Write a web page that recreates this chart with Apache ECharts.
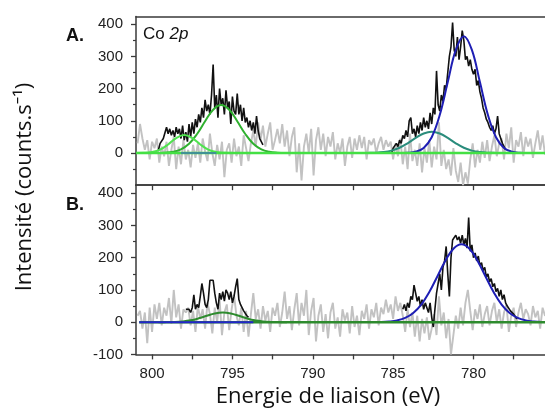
<!DOCTYPE html>
<html>
<head>
<meta charset="utf-8">
<script src="https://cdn.jsdelivr.net/npm/echarts@6/dist/echarts.min.js"></script>
<style>html,body{margin:0;padding:0;background:#fff;}#c{width:545px;height:411px;}</style>
</head>
<body>
<div id="c"></div>
<script>
// ---------- DATA ----------
// x axis (binding energy, eV)
const xMin = 775.55, xMax = 801;
const xMajorTicks = [800, 795, 790, 785, 780];
const xAllTicks = [800, 797.5, 795, 792.5, 790, 787.5, 785, 782.5, 780, 777.5];
const yLabelsA = [0, 100, 200, 300, 400];
const yLabelsB = [-100, 0, 100, 200, 300, 400];
const yMinor = [-50, 50, 150, 250, 350];

// gray traces: start energy 800.9, step 0.15 eV
const grayStart = 800.9, grayStep = 0.15;
const grayA = [30,90,45,10,40,-20,35,15,45,-30,
20,-10,35,-40,10,50,-50,20,-35,40,
-20,10,-45,25,-15,30,-30,45,5,-25,
60,0,-40,25,-20,35,-75,10,30,-30,
45,-10,20,-40,55,15,-25,30,70,20,
95,40,85,20,60,95,10,40,75,30,
90,20,70,-10,50,80,-60,30,-85,20,
60,0,75,-70,40,80,10,60,-10,50,
20,65,-20,30,0,45,-40,20,50,-15,
45,10,55,15,50,-20,40,25,45,0,
30,50,10,40,20,35,-20,30,-10,45,
-35,20,-50,60,-25,10,-40,30,-60,15,
-30,40,-45,20,-20,95,-40,10,-50,-20,
-70,15,-55,-90,-30,-100,-60,-95,-20,30,
-45,10,-30,35,-15,40,-25,20,55,-10,
30,45,-20,60,15,80,-30,40,20,65,
-10,50,20,45,-15,30,70,10,55,-5,40];
const grayB = [20,35,-20,30,-65,45,-30,55,10,60,
-10,45,20,75,-5,100,15,55,-20,40,
30,45,-10,35,-30,50,10,40,-20,60,
25,-35,45,0,70,-40,30,55,-25,40,
85,20,-10,45,-30,35,-45,25,90,10,
40,-20,50,5,35,-30,45,20,60,-15,
30,95,10,50,-25,40,90,-10,60,20,
100,-40,35,75,-60,20,55,-30,25,-50,
30,60,-20,15,-45,40,5,30,-35,50,
-15,20,-40,35,10,55,-20,40,15,60,
-10,45,25,70,30,55,10,80,35,60,
20,-30,40,-15,30,-45,20,-60,10,-35,
15,-55,-20,25,-40,80,-10,30,-50,10,
-100,-40,20,-20,45,-10,60,100,35,-25,
40,10,55,-15,25,50,-10,35,60,0,
40,-20,30,55,-30,20,45,-15,30,60,
10,40,25,-10,50,15,35,-20,45,20,30];

// black traces (fit regions), step 0.1 eV
const blackStep = 0.1;
const blackA1Start = 799.6;
const blackA1 = [10,30,25,45,40,80,60,75,55,70,
50,80,60,75,45,85,40,65,35,90,
50,95,60,105,80,120,95,140,110,165,
130,150,120,180,275,140,180,110,200,150,
170,120,195,140,160,90,175,130,120,185,
120,150,100,140,95,110,80,100,70,95,
60,115,70,45,50,25];
const blackA2Start = 785.1;
const blackA2 = [0,15,10,30,20,40,30,55,45,70,
50,100,110,60,75,50,85,60,95,70,
110,80,100,75,125,90,140,120,255,150,
130,180,160,210,200,250,300,330,405,320,
300,360,290,330,380,350,290,300,270,290,
260,245,260,210,225,190,170,140,125,105,
95,80,70,85,60,75,115,60,45,30,
20,10];
const blackB1Start = 797.9;
const blackB1 = [40,35,40,30,45,85,40,55,45,80,
120,90,55,45,70,130,125,130,90,60,
40,90,70,95,65,100,90,70,95,60,
80,110,135,70,55,50,35,30,20,15];
const blackB2Start = 784.4;
const blackB2 = [40,55,35,60,45,80,70,115,90,65,
80,50,70,40,60,45,30,60,15,-15,
40,90,120,150,100,170,190,235,150,80,
200,255,250,270,255,265,245,270,240,260,
230,325,220,240,200,215,190,205,175,185,
160,170,140,150,125,135,110,120,95,105,
80,100,70,85,60,50,45,35,40,25,
20,10];

// fitted components, step 0.5 eV
const fitStep = 0.5;
const fitASmallStart = 801.0;
const fitASmall = [0,0.5,2.9,10.5,26.6,46.5,56,46.5,26.6,10.5,2.9,0.5,0];
const fitABigStart = 799.7;
const fitABig = [0.2,0.9,3.6,11.3,28.5,58.9,98.6,134.4,149,134.4,98.6,58.9,28.5,11.3,3.6,0.9,0.2];
const fitATealStart = 787.1;
const fitATeal = [0,0.3,0.9,2.9,7.5,16.4,30.2,46.7,60.5,66,60.5,46.7,30.2,16.4,7.5,2.9,0.9,0.3,0];
const fitABlueStart = 784.6;
const fitABlue = [0.1,0.8,4.0,15.9,49.1,117.9,220.2,320.3,363,320.3,220.2,117.9,49.1,15.9,4.0,0.8,0.1];
const fitBGreenStart = 799.6;
const fitBGreen = [0,0.2,0.7,2.3,5.7,11.9,19.9,27.1,30,27.1,19.9,11.9,5.7,2.3,0.7,0.2,0];
const fitBBlueStart = 785.75;
const fitBBlue = [0.6,2.0,5.4,13.1,28.6,54.7,93.4,141.8,190.7,228,242,228,190.7,141.8,93.4,54.7,28.6,13.1,5.4,2.0,0.6];

// baselines (energy range, value 0)
const baseAx = [801, 775.5];
const baseBx = [800.8, 775.5];
const blueFlatAx = [798.2, 796.0];
const blueFlatBx = [800.8, 793.7];

// ---------- BUILD ----------
function seq(start, step, vals) {
  return vals.map((v, i) => [Math.round((start - i * step) * 1000) / 1000, v]);
}
function flat(xs) { return xs.map(x => [x, 0]); }

const axisCol = '#3a3a3a';
const labelFont = { fontFamily: 'Liberation Sans, Arial, sans-serif', fontSize: 15, color: '#222' };

function xAx(grid, pos, opts) {
  return Object.assign({
    type: 'value', gridIndex: grid, position: pos, min: xMin, max: xMax, inverse: true,
    axisLine: { show: true, onZero: false, lineStyle: { color: axisCol, width: 1.5 } },
    axisTick: { show: false }, axisLabel: { show: false }, splitLine: { show: false }
  }, opts);
}
function yAx(grid, min, max, opts) {
  return Object.assign({
    type: 'value', gridIndex: grid, position: 'left', min: min, max: max,
    axisLine: { show: true, onZero: false, lineStyle: { color: axisCol, width: 1.5 } },
    axisTick: { show: false }, axisLabel: { show: false }, splitLine: { show: false }
  }, opts);
}

function line(name, xi, yi, data, color, width, smooth, z) {
  return {
    name: name, type: 'line', xAxisIndex: xi, yAxisIndex: yi, data: data,
    showSymbol: false, symbol: 'none', smooth: smooth || false, clip: true, z: z || 2,
    lineStyle: { color: color, width: width }, emphasis: { disabled: true }, silent: true
  };
}

const option = {
  animation: false,
  backgroundColor: '#fff',
  grid: [
    { left: 136, right: 0, top: 16.5, height: 168.7, outerBoundsMode: 'none', containLabel: false },
    { left: 136, right: 0, top: 185.2, height: 169.2, outerBoundsMode: 'none', containLabel: false }
  ],
  xAxis: [
    xAx(0, 'bottom'),
    xAx(0, 'top'),
    xAx(1, 'bottom', {
      axisTick: { show: true, inside: false, length: 5, customValues: xAllTicks, lineStyle: { color: axisCol, width: 1.3 } },
      axisLabel: Object.assign({ show: true, margin: 12, customValues: xMajorTicks }, labelFont)
    }),
    xAx(1, 'top', {
      axisTick: { show: true, inside: true, length: 5, customValues: xAllTicks, lineStyle: { color: axisCol, width: 1.3 } }
    })
  ],
  yAxis: [
    yAx(0, -100, 424, {
      axisTick: { show: true, length: 5, customValues: yLabelsA, lineStyle: { color: axisCol, width: 1.3 } },
      axisLabel: Object.assign({ show: true, margin: 13, customValues: yLabelsA }, labelFont)
    }),
    yAx(0, -100, 424, {
      axisLine: { show: false },
      axisTick: { show: true, length: 3, customValues: yMinor, lineStyle: { color: axisCol, width: 1.2 } }
    }),
    yAx(1, -100, 425, {
      axisTick: { show: true, length: 5, customValues: yLabelsB, lineStyle: { color: axisCol, width: 1.3 } },
      axisLabel: Object.assign({ show: true, margin: 13, customValues: yLabelsB }, labelFont)
    }),
    yAx(1, -100, 425, {
      axisLine: { show: false },
      axisTick: { show: true, length: 3, customValues: yMinor, lineStyle: { color: axisCol, width: 1.2 } }
    })
  ],
  series: [
    // panel A
    line('grayA', 0, 0, seq(grayStart, grayStep, grayA), '#c2c2c2', 1.9, false, 1),
    line('blackA1', 0, 0, seq(blackA1Start, blackStep, blackA1), '#111', 1.6, false, 2),
    line('blackA2', 0, 0, seq(blackA2Start, blackStep, blackA2), '#111', 1.6, false, 2),
    line('fitABig', 0, 0, seq(fitABigStart, fitStep, fitABig), '#2fb02f', 2, 0.4, 3),
    line('fitASmall', 0, 0, seq(fitASmallStart, fitStep, fitASmall), '#4fe34f', 2, 0.4, 3),
    line('fitATeal', 0, 0, seq(fitATealStart, fitStep, fitATeal), '#2a8c7c', 2, 0.4, 3),
    line('fitABlue', 0, 0, seq(fitABlueStart, fitStep, fitABlue), '#1e1eb4', 2, 0.4, 3),
    line('baseA', 0, 0, flat(baseAx), '#44e044', 2.5, false, 4),
    line('blueFlatA', 0, 0, flat(blueFlatAx), '#3f78b0', 1.5, false, 5),
    // panel B
    line('grayB', 2, 2, seq(grayStart, grayStep, grayB), '#c2c2c2', 1.9, false, 1),
    line('blackB1', 2, 2, seq(blackB1Start, blackStep, blackB1), '#111', 1.6, false, 2),
    line('blackB2', 2, 2, seq(blackB2Start, blackStep, blackB2), '#111', 1.6, false, 2),
    line('fitBGreen', 2, 2, seq(fitBGreenStart, fitStep, fitBGreen), '#2e8b2e', 2, 0.4, 3),
    line('fitBBlue', 2, 2, seq(fitBBlueStart, fitStep, fitBBlue), '#1e1eb4', 2, 0.4, 3),
    line('baseB', 2, 2, flat(baseBx), '#2e8b2e', 2.5, false, 4),
    line('blueFlatB', 2, 2, flat(blueFlatBx), '#2424cc', 2, false, 5)
  ],
  graphic: [
    { type: 'text', x: 25, y: 187, rotation: Math.PI / 2, z: 10,
      style: { text: 'Intensité (counts.s⁻¹)', font: '22px "Open Sans", "Noto Sans", sans-serif', fill: '#111', textAlign: 'center', textVerticalAlign: 'middle' } },
    { type: 'text', x: 328, y: 397, z: 10,
      style: { text: 'Energie de liaison (eV)', font: '22px "Open Sans", "Noto Sans", sans-serif', fill: '#111', textAlign: 'center', textVerticalAlign: 'middle' } },
    { type: 'text', x: 66, y: 36, z: 10,
      style: { text: 'A.', font: 'bold 18px "Liberation Sans", Arial, sans-serif', fill: '#111', textAlign: 'left', textVerticalAlign: 'middle' } },
    { type: 'text', x: 66, y: 205, z: 10,
      style: { text: 'B.', font: 'bold 18px "Liberation Sans", Arial, sans-serif', fill: '#111', textAlign: 'left', textVerticalAlign: 'middle' } },
    { type: 'text', x: 143, y: 34, z: 10,
      style: { text: '{n|Co }{i|2p}', textAlign: 'left', textVerticalAlign: 'middle',
        rich: {
          n: { fontFamily: '"Liberation Sans", Arial, sans-serif', fontSize: 17, fill: '#111', color: '#111' },
          i: { fontFamily: '"Liberation Sans", Arial, sans-serif', fontSize: 17, fontStyle: 'italic', fill: '#111', color: '#111' }
        } } }
  ]
};

const chart = echarts.init(document.getElementById('c'), null, { renderer: 'canvas', width: 545, height: 411 });
chart.setOption(option);
</script>
</body>
</html>
